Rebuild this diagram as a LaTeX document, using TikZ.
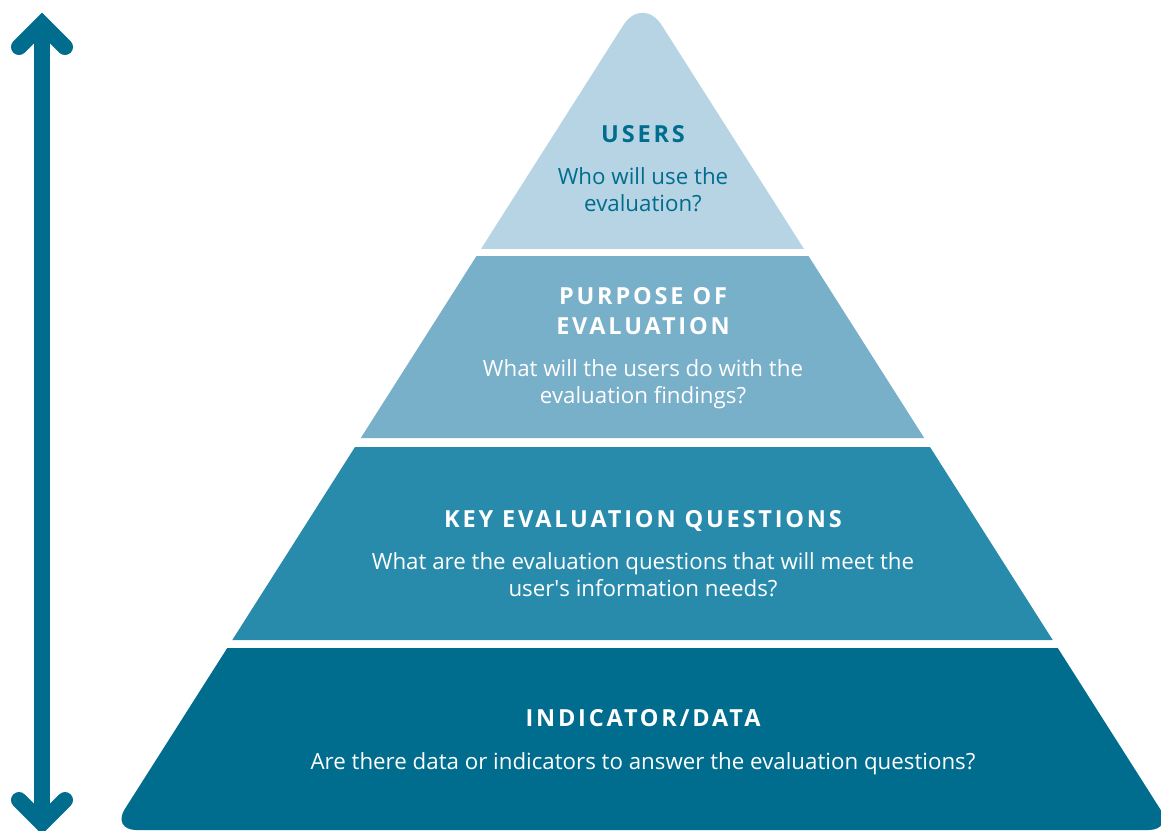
\documentclass[tikz,border=0pt]{standalone}
\usepackage{fontspec}
\setmainfont{Open Sans}
\newfontfamily\titlefont[LetterSpace=12]{Open Sans}
\definecolor{cA}{HTML}{B7D4E4}
\definecolor{cB}{HTML}{78AFC9}
\definecolor{cC}{HTML}{298BAC}
\definecolor{cD}{HTML}{006C8E}
\tikzset{
  ttl/.style={anchor=base, inner sep=0pt, font=\titlefont\bfseries\fontsize{23.5}{28}\selectfont},
  body/.style={anchor=base, inner sep=0pt, font=\fontsize{22.3}{27}\selectfont},
  arr/.style={draw=cD, line width=16pt},
}
\begin{document}
\begin{tikzpicture}[x=1pt,y=-1pt]
\useasboundingbox (0,0) rectangle (1161,830);
\clip (0,0) rectangle (1161,830);
% band 1 (apex rounded)
\begin{scope}
\clip (0,0) rectangle (1161,248);
\fill[cA, rounded corners=36] (642.5,-5) -- (1001.8,560) -- (283.2,560) -- cycle;
\end{scope}
% band 2
\fill[cB] (476.5,256) -- (808.5,256) -- (924.2,438) -- (360.8,438) -- cycle;
% band 3
\fill[cC] (355,447) -- (930,447) -- (1052.7,640) -- (232.3,640) -- cycle;
% band 4 (bottom corners rounded)
\begin{scope}
\clip (0,648) rectangle (1161,830);
\fill[cD, rounded corners=25] (642.5,-5) -- (1173.5,830) -- (111.5,830) -- cycle;
\end{scope}
% arrow
\coordinate (atop) at (42,24);
\coordinate (abot) at (42,823);
\draw[arr] (atop) -- (abot);
\draw[arr, line cap=round, line join=miter] (19,47) -- (atop) -- (65,47);
\draw[arr, line cap=round, line join=miter] (19,800) -- (abot) -- (65,800);
% texts
\node[ttl, text=cD] (t1) at (643,142.5) {USERS};
\node[body, text=cD] (b1a) at (643,184) {Who will use the};
\node[body, text=cD] (b1b) at (643,211) {evaluation?};
\node[ttl, text=white] (t2a) at (643,304.5) {PURPOSE OF};
\node[ttl, text=white] (t2b) at (643,334.5) {EVALUATION};
\node[body, text=white] (b2a) at (643,376) {What will the users do with the};
\node[body, text=white] (b2b) at (643,403) {evaluation findings?};
\node[ttl, text=white] (t3) at (643,527.5) {KEY EVALUATION QUESTIONS};
\node[body, text=white] (b3a) at (643,569) {What are the evaluation questions that will meet the};
\node[body, text=white] (b3b) at (643,596) {user\textquotesingle s information needs?};
\node[ttl, text=white] (t4) at (643,726.5) {INDICATOR/DATA};
\node[body, text=white] (b4) at (643,769) {Are there data or indicators to answer the evaluation questions?};
\end{tikzpicture}
\end{document}
